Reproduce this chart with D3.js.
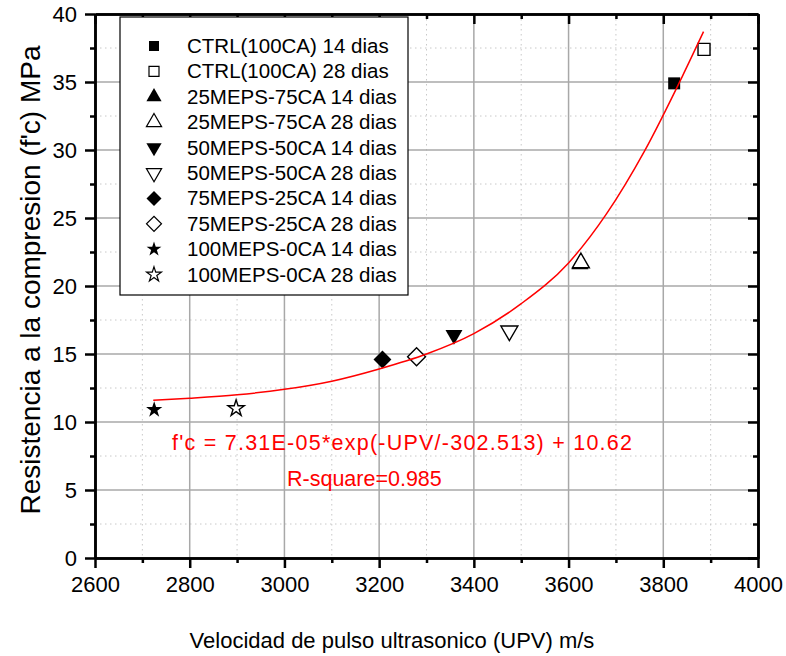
<!DOCTYPE html>
<html>
<head>
<meta charset="utf-8">
<script src="https://cdn.jsdelivr.net/npm/d3@7"></script>
<style>
  body { margin: 0; background: #fff; }
  svg { font-family: "Liberation Sans", Arial, sans-serif; }
</style>
</head>
<body>
<div id="chart"></div>
<script>
// series
var seriesNames = [
    "CTRL(100CA) 14 dias", "CTRL(100CA) 28 dias",
    "25MEPS-75CA 14 dias", "25MEPS-75CA 28 dias",
    "50MEPS-50CA 14 dias", "50MEPS-50CA 28 dias",
    "75MEPS-25CA 14 dias", "75MEPS-25CA 28 dias",
    "100MEPS-0CA 14 dias", "100MEPS-0CA 28 dias"
];
var upvValues = [3823, 3886, 3624, 3626, 3358, 3475, 3207, 3279, 2725, 2898];
var fcValues = [34.9, 37.4, 21.6, 21.7, 16.4, 16.7, 14.6, 14.8, 10.9, 11.0];

// fitted curve as drawn
var fitUpv = [2723, 2800, 2900, 3000, 3100, 3200, 3300, 3400, 3500, 3600, 3680, 3760, 3840, 3885];
var fitFc = [11.6, 11.75, 12.0, 12.4, 13.0, 13.9, 15.0, 16.5, 18.7, 21.7, 25.3, 29.9, 35.4, 38.7];

var xTicks = [2600, 2800, 3000, 3200, 3400, 3600, 3800, 4000];
var yTicks = [0, 5, 10, 15, 20, 25, 30, 35, 40];

var margin = {top: 14, right: 28, bottom: 98, left: 95},
    width = 786 - margin.left - margin.right,
    height = 656 - margin.top - margin.bottom;

var x = d3.scaleLinear().domain([2600, 4000]).range([0, width]);
var y = d3.scaleLinear().domain([0, 40]).range([height, 0]);

var svg = d3.select("#chart").append("svg").attr("width", 786).attr("height", 656);
var g = svg.append("g").attr("transform", "translate(" + margin.left + "," + margin.top + ")");

var xMinor = xTicks.slice(0, -1).map(function(d) { return d + 100; });
var yMinor = yTicks.slice(0, -1).map(function(d) { return d + 2.5; });

// grid
g.append("g").selectAll("line").data(xMinor).enter().append("line")
    .attr("x1", x).attr("x2", x).attr("y1", 0).attr("y2", height)
    .attr("stroke", "#c8c8c8").attr("stroke-dasharray", "1.5,3.5");
g.append("g").selectAll("line").data(yMinor).enter().append("line")
    .attr("y1", y).attr("y2", y).attr("x1", 0).attr("x2", width)
    .attr("stroke", "#c8c8c8").attr("stroke-dasharray", "1.5,3.5");
g.append("g").selectAll("line").data(xTicks).enter().append("line")
    .attr("x1", x).attr("x2", x).attr("y1", 0).attr("y2", height)
    .attr("stroke", "#a8a8a8").attr("stroke-width", 1.5);
g.append("g").selectAll("line").data(yTicks).enter().append("line")
    .attr("y1", y).attr("y2", y).attr("x1", 0).attr("x2", width)
    .attr("stroke", "#a8a8a8").attr("stroke-width", 1.5);

// axes
function styleAxis(sel) {
    sel.select(".domain").attr("stroke-width", 2.5);
    sel.selectAll(".tick line").attr("stroke-width", 2.5);
    sel.selectAll(".tick text").attr("font-size", 22).attr("fill", "#000");
}
g.append("g").attr("transform", "translate(0," + height + ")")
    .call(d3.axisBottom(x).tickValues(xTicks).tickSize(10).tickSizeOuter(0).tickPadding(8).tickFormat(d3.format("d")))
    .call(styleAxis);
g.append("g").attr("transform", "translate(0," + height + ")")
    .call(d3.axisBottom(x).tickValues(xMinor).tickSize(5).tickSizeOuter(0).tickFormat(""))
    .call(styleAxis);
g.append("g")
    .call(d3.axisLeft(y).tickValues(yTicks).tickSize(10).tickSizeOuter(0).tickPadding(8))
    .call(styleAxis);
g.append("g")
    .call(d3.axisLeft(y).tickValues(yMinor).tickSize(5).tickSizeOuter(0).tickFormat(""))
    .call(styleAxis);
g.append("g")
    .call(d3.axisTop(x).tickValues(xTicks).tickSize(-10).tickSizeOuter(0).tickFormat(""))
    .call(styleAxis);
g.append("g")
    .call(d3.axisTop(x).tickValues(xMinor).tickSize(-5).tickSizeOuter(0).tickFormat(""))
    .call(styleAxis);
g.append("g").attr("transform", "translate(" + width + ",0)")
    .call(d3.axisRight(y).tickValues(yTicks).tickSize(-10).tickSizeOuter(0).tickFormat(""))
    .call(styleAxis);
g.append("g").attr("transform", "translate(" + width + ",0)")
    .call(d3.axisRight(y).tickValues(yMinor).tickSize(-5).tickSizeOuter(0).tickFormat(""))
    .call(styleAxis);

// marker shapes: [symbol, rotate, size in plot, size in legend]
var shapes = [
    [d3.symbolSquare, 0, 144, 100],
    [d3.symbolTriangle, 0, 125, 100],
    [d3.symbolTriangle, 180, 125, 100],
    [d3.symbolSquare, 45, 160, 112],
    [d3.symbolStar, 0, 82, 68]
];
function shapeOf(i) { return shapes[Math.floor(i / 2)]; }
function filled(i) { return i % 2 === 0; }

var points = seriesNames.map(function(name, i) {
    return {name: name, upv: upvValues[i], fc: fcValues[i], i: i};
});

g.append("g").selectAll("path").data(points).enter().append("path")
    .attr("d", function(d) { return d3.symbol().type(shapeOf(d.i)[0]).size(shapeOf(d.i)[2])(); })
    .attr("transform", function(d) {
        return "translate(" + x(d.upv) + "," + y(d.fc) + ") rotate(" + shapeOf(d.i)[1] + ")";
    })
    .attr("fill", function(d) { return filled(d.i) ? "#000" : "#fff"; })
    .attr("stroke", "#000").attr("stroke-width", function(d) { return filled(d.i) ? 0 : 1.4; });

// fit line
var fit = fitUpv.map(function(u, i) { return [u, fitFc[i]]; });
g.append("path").datum(fit)
    .attr("d", d3.line().x(function(d) { return x(d[0]); }).y(function(d) { return y(d[1]); }).curve(d3.curveMonotoneX))
    .attr("fill", "none").attr("stroke", "#ff0000").attr("stroke-width", 1.5);

// legend
var legend = svg.append("g").attr("transform", "translate(120,17)");
legend.append("rect").attr("width", 288).attr("height", 278)
    .attr("fill", "#fff").attr("stroke", "#000").attr("stroke-width", 1.2);
var item = legend.selectAll(".legend").data(points).enter().append("g")
    .attr("class", "legend")
    .attr("transform", function(d, i) { return "translate(0," + (29 + i * 25.4) + ")"; });
item.append("path")
    .attr("d", function(d) { return d3.symbol().type(shapeOf(d.i)[0]).size(shapeOf(d.i)[3])(); })
    .attr("transform", function(d) { return "translate(34,0) rotate(" + shapeOf(d.i)[1] + ")"; })
    .attr("fill", function(d) { return filled(d.i) ? "#000" : "#fff"; })
    .attr("stroke", "#000").attr("stroke-width", function(d) { return filled(d.i) ? 0 : 1.2; });
item.append("text").attr("x", 67).attr("y", 7).attr("font-size", 20.5).text(function(d) { return d.name; });

// fit annotation
svg.append("text").attr("x", 172).attr("y", 450).attr("font-size", 21.5).attr("fill", "#ff0000")
    .attr("textLength", 460).attr("lengthAdjust", "spacing")
    .text("f'c = 7.31E-05*exp(-UPV/-302.513) + 10.62");
svg.append("text").attr("x", 287).attr("y", 486).attr("font-size", 21.5).attr("fill", "#ff0000")
    .text("R-square=0.985");

// axis titles
svg.append("text").attr("x", 392).attr("y", 648).attr("text-anchor", "middle").attr("font-size", 22)
    .text("Velocidad de pulso ultrasonico (UPV) m/s");
svg.append("text").attr("transform", "translate(40,280) rotate(-90)").attr("text-anchor", "middle")
    .attr("font-size", 28)
    .text("Resistencia a la compresion (f'c) MPa");
</script>
</body>
</html>
